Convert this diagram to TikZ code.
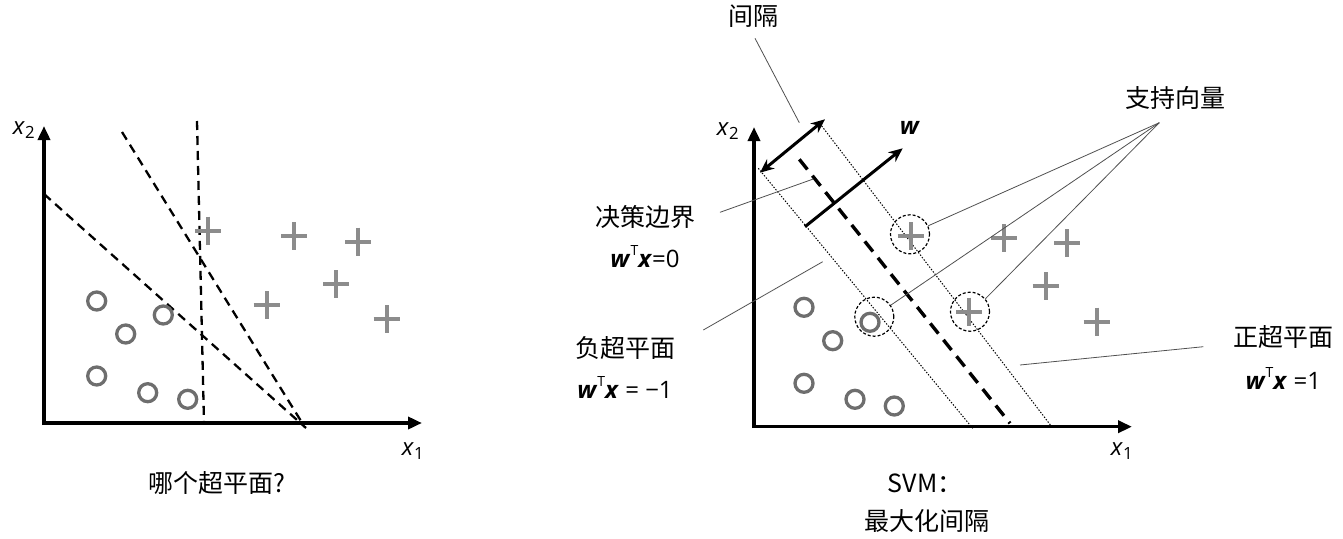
\documentclass[tikz,border=0pt]{standalone}
\usepackage{fontspec}
\setmainfont{Open Sans}
\newfontfamily\cjk{Noto Sans CJK SC}
\usetikzlibrary{arrows.meta}
\definecolor{ogray}{HTML}{6E6E6E}
\definecolor{pgray}{HTML}{8C8C8C}
\definecolor{lgray}{HTML}{505050}
\newcommand\wvec{\textbf{\textit{w}}}
\newcommand\xvec{\textbf{\textit{x}}}
\newcommand\supT{\raisebox{0.5em}{\fontsize{14}{14}\selectfont T}}
\begin{document}
\begin{tikzpicture}[x=1pt,y=-1pt,
  axis/.style={line width=3.5pt,-{Triangle[length=14pt,width=12pt]}},
  hyp/.style={line width=2.3pt,dash pattern=on 9pt off 6pt},
  bound/.style={line width=3.4pt,dash pattern=on 13pt off 8pt},
  marg/.style={line width=1pt,draw=black,dash pattern=on 1.4pt off 1.6pt},
  dblarr/.style={line width=3pt,{Stealth[length=14pt,width=12pt]}-{Stealth[length=14pt,width=12pt]}},
  warr/.style={line width=3pt,-{Stealth[length=14pt,width=12pt]}},
  omark/.style={circle,draw=ogray,line width=3.3pt,minimum size=18pt,inner sep=0pt},
  svc/.style={circle,draw,dash pattern=on 3pt off 2pt,line width=1.2pt,minimum size=39pt,inner sep=0pt},
  lead/.style={line width=0.8pt,draw=lgray},
  cjkt/.style={font=\cjk\fontsize{25}{30}\selectfont,inner sep=0pt},
  lat/.style={font=\fontsize{24}{28}\selectfont,inner sep=0pt},
  plusm/.pic={\draw[line width=4pt,draw=pgray] (-13,0)--(13,0) (0,-14)--(0,14);}
]
\useasboundingbox (0,0) rectangle (1343,538);

% ---------- left panel ----------
\draw[axis] (44,425) -- (44,126);
\draw[axis] (42,423) -- (422,423);
\node[lat] (lx2) at (24,130) {\textit{x}\textsubscript{2}};
\node[lat] (lx1) at (413,451) {\textit{x}\textsubscript{1}};
\node[cjkt] (lq) at (217,483) {哪个超平面?};

\draw[hyp] (197,121) -- (204,423);
\draw[hyp] (122,132) -- (301,421);
\draw[hyp] (44,194) -- (306,428);

\foreach \p/\n in {{(96.7,301)}/1,{(125.7,334)}/2,{(163.3,315)}/3,{(96.7,376)}/4,{(147.7,392.7)}/5,{(187.7,399.3)}/6}
  \node[omark] (lo\n) at \p {};
\foreach \p in {{(208.3,230.7)},{(294,236)},{(358.3,241.7)},{(336,284.3)},{(266.7,305)},{(386.7,319.3)}}
  \pic at \p {plusm};

% ---------- right panel ----------
\draw[axis] (754,428) -- (754,127);
\draw[axis] (752,426.7) -- (1132,426.7);
\node[lat] (rx2) at (728,131) {\textit{x}\textsubscript{2}};
\node[lat] (rx1) at (1122,451) {\textit{x}\textsubscript{1}};

\draw[marg] (758.3,168.3) -- (972.7,428.3);
\draw[marg] (821.7,126) -- (1051.7,426.7);
\draw[bound] (799.3,159.3) -- (1010,423.3);

\coordinate (ma) at (760,172.7);
\coordinate (mb) at (825,119.3);
\draw[dblarr] (ma) -- (mb);
\coordinate (wa) at (805,226.7);
\coordinate (wb) at (902.7,148.3);
\draw[warr] (wa) -- (wb);
\node[lat] (wl) at (910,128) {\wvec};

% markers
\foreach \p/\n in {{(804,307.3)}/1,{(832.7,340.7)}/2,{(804,383.3)}/3,{(855,399.3)}/4,{(894.3,406)}/5,{(870,322.3)}/6}
  \node[omark] (ro\n) at \p {};
\foreach \p in {{(1004,238.3)},{(1067.3,243.3)},{(1045.7,286)},{(1096.7,321.7)},{(910.7,236)},{(969,311.7)}}
  \pic at \p {plusm};

% support vector circles
\node[svc] (sv1) at (910,234.3) {};
\node[svc] (sv2) at (874.3,316.7) {};
\node[svc] (sv3) at (970,311.7) {};

% labels
\node[cjkt] (gap) at (753.3,16) {间隔};
\coordinate (gapA) at (755,38.3);
\coordinate (gapB) at (799.3,122.7);
\draw[lead] (gapA) -- (gapB);

\node[cjkt] (svl) at (1175,98.3) {支持向量};
\coordinate (apex) at (1159.3,122.7);
\draw[lead] (apex) -- (sv1.25);
\draw[lead] (apex) -- (sv2.35);
\draw[lead] (apex) -- (sv3.40);

\node[cjkt] (db) at (645,216.7) {决策边界};
\node[lat] (dbe) at (645,256.7) {\wvec\supT\xvec{}=0};
\coordinate (dbA) at (720,212.3);
\coordinate (dbB) at (813.3,179);
\draw[lead] (dbA) -- (dbB);

\node[cjkt] (neg) at (625,347.7) {负超平面};
\node[lat] (nege) at (625,387.7) {\wvec\supT\xvec{} = \textminus 1};
\coordinate (negA) at (703.3,330);
\coordinate (negB) at (822.7,261.7);
\draw[lead] (negA) -- (negB);

\node[cjkt] (pos) at (1283.3,336.7) {正超平面};
\node[lat] (pose) at (1283.3,378.3) {\wvec\supT\xvec{} =1};
\coordinate (posA) at (1020,365);
\coordinate (posB) at (1203.3,346.7);
\draw[lead] (posA) -- (posB);

\node[cjkt] (svm) at (925,483) {SVM：};
\node[cjkt] (maxm) at (927,521) {最大化间隔};
\end{tikzpicture}
\end{document}
